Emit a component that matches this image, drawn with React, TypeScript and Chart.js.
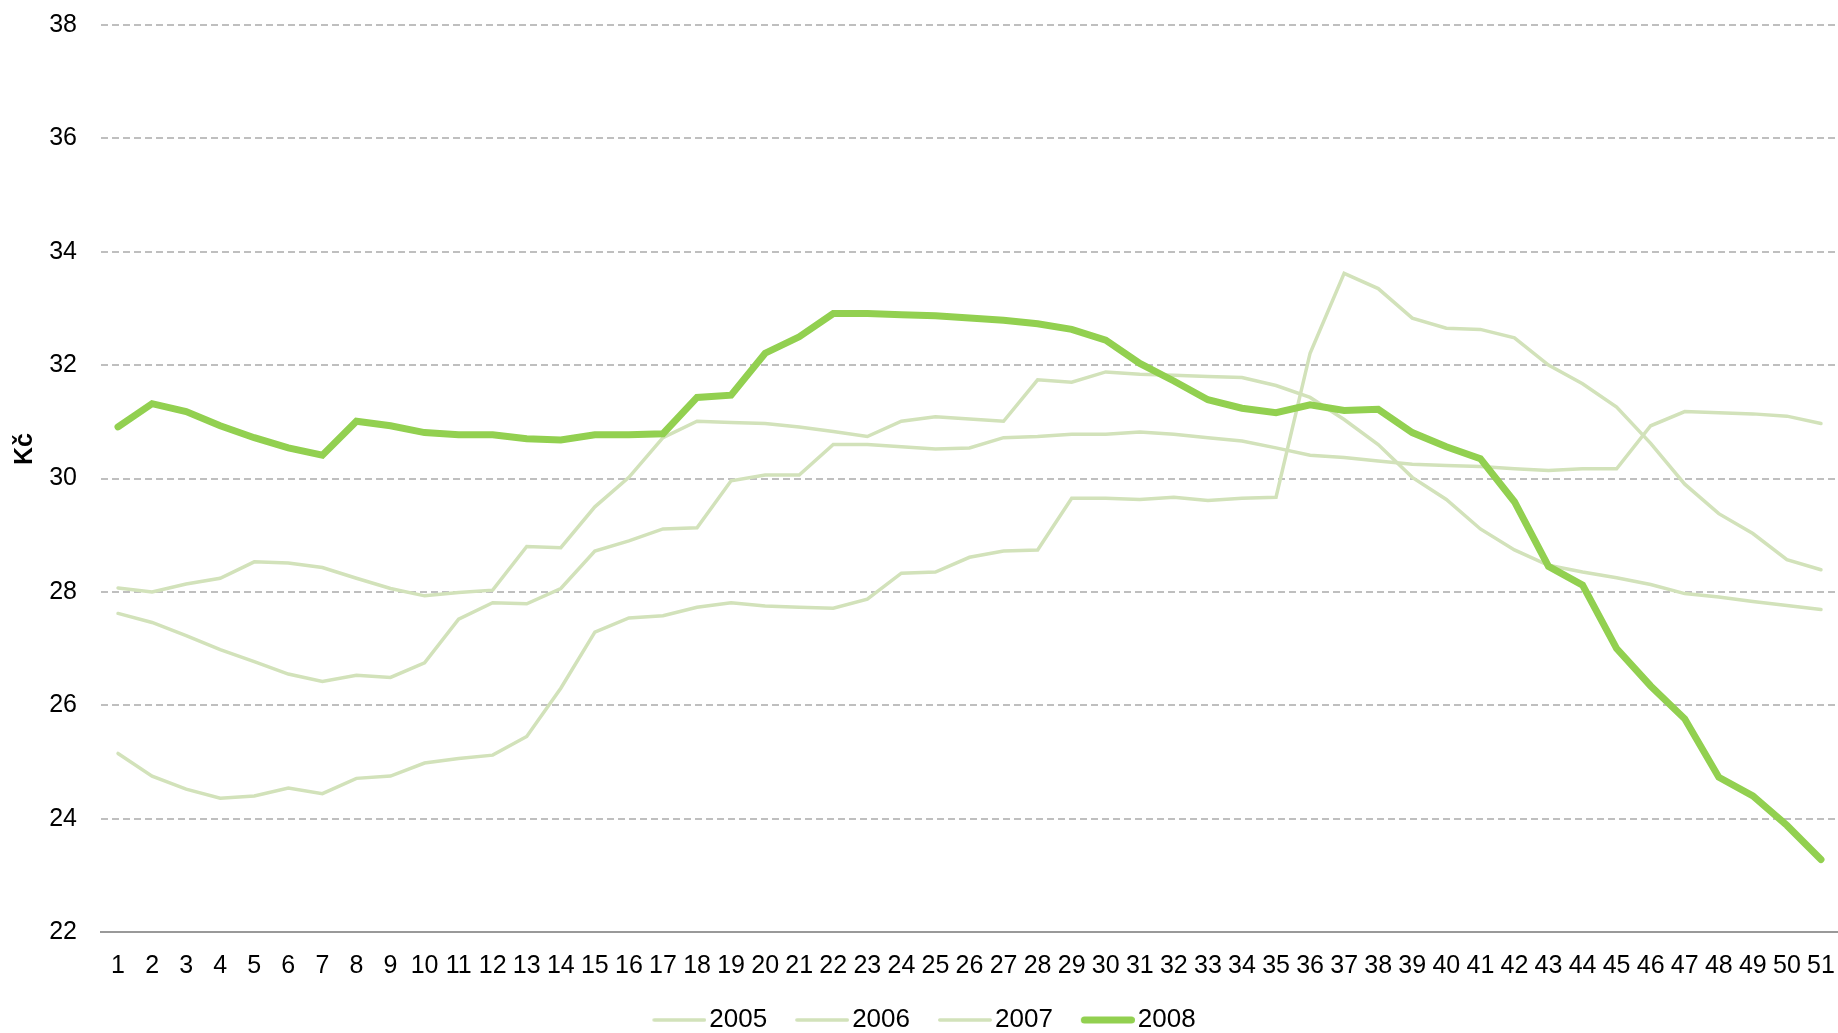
import { useEffect, useRef } from 'react';
import { Chart, registerables } from 'chart.js';

Chart.register(...registerables);

const weeks = ['1','2','3','4','5','6','7','8','9','10','11','12','13','14','15','16','17','18','19','20','21','22','23','24','25','26','27','28','29','30','31','32','33','34','35','36','37','38','39','40','41','42','43','44','45','46','47','48','49','50','51'];

const y2005 = [25.15,24.75,24.52,24.36,24.40,24.54,24.44,24.71,24.75,24.98,25.06,25.12,25.45,26.30,27.29,27.54,27.58,27.73,27.81,27.75,27.73,27.71,27.87,28.33,28.35,28.61,28.72,28.74,29.65,29.65,29.63,29.67,29.61,29.65,29.67,32.21,33.62,33.35,32.83,32.65,32.63,32.48,32.00,31.67,31.26,30.62,29.90,29.38,29.03,28.57,28.39];

const y2006 = [28.07,28.00,28.14,28.24,28.53,28.51,28.43,28.24,28.06,27.93,27.99,28.03,28.80,28.78,29.50,30.02,30.72,31.01,30.99,30.97,30.91,30.83,30.74,31.01,31.09,31.05,31.01,31.74,31.70,31.88,31.84,31.82,31.80,31.78,31.64,31.43,31.04,30.60,30.02,29.63,29.11,28.74,28.47,28.35,28.25,28.13,27.97,27.91,27.83,27.76,27.69];

const y2007 = [27.62,27.46,27.23,26.98,26.77,26.55,26.42,26.53,26.49,26.75,27.52,27.81,27.79,28.06,28.72,28.90,29.11,29.13,29.96,30.06,30.06,30.60,30.60,30.56,30.52,30.54,30.72,30.74,30.78,30.78,30.82,30.78,30.72,30.66,30.54,30.41,30.37,30.31,30.25,30.23,30.21,30.17,30.14,30.17,30.17,30.93,31.18,31.16,31.14,31.10,30.97];

const y2008 = [30.91,31.32,31.18,30.93,30.72,30.54,30.41,31.01,30.93,30.81,30.77,30.77,30.70,30.68,30.77,30.77,30.79,31.43,31.47,32.21,32.50,32.91,32.91,32.89,32.87,32.83,32.79,32.73,32.63,32.44,32.03,31.72,31.39,31.24,31.16,31.30,31.20,31.22,30.81,30.56,30.35,29.59,28.45,28.12,27.00,26.34,25.76,24.73,24.40,23.88,23.28];

const yTicks = [22, 24, 26, 28, 30, 32, 34, 36, 38];
const seriesNames = ['2005', '2006', '2007', '2008'];
const yTitle = 'Kč';

const FONT = "'Liberation Sans', Arial, sans-serif";
const LIGHT = '#d2e2ba';
const STRONG = '#92d050';

const LEGEND_BOX = 54;
const LEGEND_SHIFT = 10;

function legendLine(color: string, width: number) {
  const c = document.createElement('canvas');
  c.width = LEGEND_BOX + 2 * LEGEND_SHIFT;
  c.height = 20;
  const ctx = c.getContext('2d')!;
  ctx.strokeStyle = color;
  ctx.lineWidth = width;
  ctx.lineCap = 'round';
  ctx.beginPath();
  ctx.moveTo(2 * LEGEND_SHIFT + width / 2, 10);
  ctx.lineTo(c.width - width / 2, 10);
  ctx.stroke();
  return c;
}

const yTitlePlugin = {
  id: 'yTitlePlugin',
  afterDraw(chart: any) {
    const ctx = chart.ctx;
    ctx.save();
    ctx.translate(25, 449);
    ctx.rotate(-Math.PI / 2);
    ctx.font = `bold 25px ${FONT}`;
    ctx.fillStyle = '#000';
    ctx.textAlign = 'center';
    ctx.textBaseline = 'middle';
    ctx.fillText(yTitle, 0, 0);
    ctx.restore();
  },
};

export default function App() {
  const ref = useRef<HTMLCanvasElement>(null);

  useEffect(() => {
    if (!ref.current) return;
    const values = [y2005, y2006, y2007, y2008];
    const chart = new Chart(ref.current, {
      type: 'line',
      data: {
        labels: weeks,
        datasets: values.map((v, i) => ({
          label: seriesNames[i],
          data: v,
          borderColor: i === 3 ? STRONG : LIGHT,
          backgroundColor: i === 3 ? STRONG : LIGHT,
          borderWidth: i === 3 ? 7 : 3.5,
          borderCapStyle: 'round' as const,
          borderJoinStyle: 'miter' as const,
          pointRadius: 0,
          pointHoverRadius: 0,
          tension: 0,
          order: i === 3 ? -1 : 0,
        })),
      },
      options: {
        animation: false,
        responsive: true,
        maintainAspectRatio: false,
        layout: { padding: { top: 25, right: 0, bottom: -10, left: 0 } },
        plugins: {
          tooltip: { enabled: false },
          legend: {
            position: 'bottom',
            labels: {
              usePointStyle: true,
              pointStyleWidth: LEGEND_BOX,
              color: '#000',
              font: { family: FONT, size: 26 },
              padding: 18,
              sort: (a: any, b: any) => a.datasetIndex - b.datasetIndex,
              generateLabels: (ch: any) => {
                const items = (Chart.defaults.plugins.legend.labels as any).generateLabels(ch);
                return items.map((it: any) => {
                  const ds = ch.data.datasets[it.datasetIndex];
                  return { ...it, pointStyle: legendLine(ds.borderColor, ds.borderWidth) };
                });
              },
            },
          },
        },
        scales: {
          x: {
            offset: true,
            grid: { display: false },
            border: { display: true, color: '#999999', width: 2 },
            afterFit: (scale: any) => {
              scale.paddingLeft = 0;
              scale.paddingRight = 0;
              scale.height -= 3;
            },
            ticks: {
              autoSkip: false,
              maxRotation: 0,
              minRotation: 0,
              color: '#000',
              font: { family: FONT, size: 25 },
              padding: 11,
            },
          },
          y: {
            min: 22,
            max: 38,
            afterBuildTicks: (scale: any) => {
              scale.ticks = yTicks.map((v) => ({ value: v }));
            },
            afterFit: (scale: any) => {
              scale.width = 101;
              scale.paddingTop = 0;
              scale.paddingBottom = 0;
            },
            border: { display: false, dash: [7, 4] },
            grid: {
              color: (c: any) => (c.tick && c.tick.value === 22 ? 'rgba(0,0,0,0)' : '#bfbfbf'),
              lineWidth: 2,
              drawTicks: false,
            },
            ticks: {
              color: '#000',
              font: { family: FONT, size: 25 },
              padding: 24,
            },
          },
        },
      },
      plugins: [yTitlePlugin],
    });
    return () => chart.destroy();
  }, []);

  return (
    <div style={{ position: 'fixed', left: 0, top: 0, width: 1838, height: 1033, background: '#fff' }}>
      <canvas ref={ref} />
    </div>
  );
}
